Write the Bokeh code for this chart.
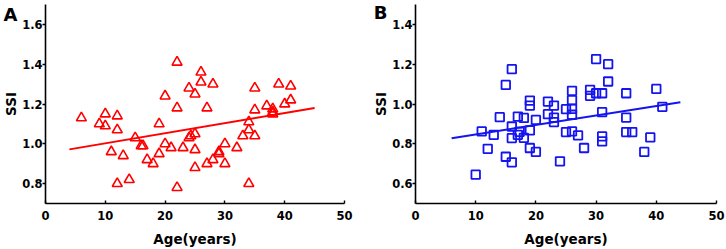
from bokeh.plotting import figure
from bokeh.layouts import row
from bokeh.models import Range1d, FixedTicker, LinearAxis
from bokeh.embed import file_html
from bokeh.resources import INLINE

# ---------------- data ----------------
ageA = [6, 9, 10, 10, 12, 12, 12, 11, 13, 14, 15, 16, 16.3, 17, 18, 19, 19, 20, 20, 21,
        22, 22, 22, 23, 24, 24, 24.3, 25, 25, 25, 25, 26, 26, 27, 27, 28, 28, 29, 29, 30,
        30, 32, 33, 34, 34, 34, 35, 35, 35, 37, 38, 38, 38, 39, 40, 41, 41]
ssiA = [1.13, 1.10, 1.15, 1.09, 1.14, 1.07, 0.80, 0.96, 0.94, 0.82, 1.03, 0.99, 0.99, 0.92, 0.90, 1.10, 0.95, 1.24, 1.00, 0.98,
        1.41, 1.18, 0.78, 0.98, 1.28, 1.03, 1.04, 1.25, 1.05, 0.97, 0.88, 1.36, 1.31, 1.18, 0.90, 1.30, 0.92, 0.95, 0.96, 1.00,
        0.90, 0.98, 1.04, 1.11, 1.07, 0.80, 1.28, 1.17, 1.04, 1.19, 1.175, 1.16, 1.15, 1.30, 1.20, 1.29, 1.22]
fitA_x = [4, 45]
fitA_y = [0.972, 1.18]

ageB = [10, 11, 12, 13, 14, 15, 15, 16, 16, 16, 16, 17, 17, 17.3, 18, 18, 19, 19, 19, 19,
        20, 20, 22, 22, 23, 23, 23, 24, 25, 25, 26, 26, 26, 26, 26, 27, 28, 29, 29, 30,
        30, 31, 31, 31, 31, 32, 32, 35, 35, 35, 36, 38, 39, 40, 41]
ssiB = [0.645, 0.862, 0.775, 0.845, 0.934, 1.096, 0.735, 1.175, 0.887, 0.829, 0.707, 0.937, 0.845, 0.86, 0.93, 0.83, 1.017, 0.992, 0.867, 0.779,
        0.92, 0.759, 1.012, 0.949, 0.992, 0.932, 0.909, 0.712, 0.974, 0.859, 1.066, 1.019, 0.976, 0.946, 0.862, 0.842, 0.779, 1.071, 1.041, 1.226,
        1.054, 1.054, 0.959, 0.837, 0.812, 1.2, 1.113, 1.054, 0.932, 0.859, 0.859, 0.759, 0.832, 1.076, 0.986]
fitB_x = [6, 44]
fitB_y = [0.828, 1.009]

xticks = [0, 10, 20, 30, 40, 50]
xtick_labels = ["0", "10", "20", "30", "40", "50"]
yticksA = [0.8, 1.0, 1.2, 1.4, 1.6]
ytick_labelsA = ["0.8", "1.0", "1.2", "1.4", "1.6"]
yticksB = [0.6, 0.8, 1.0, 1.2, 1.4]
ytick_labelsB = ["0.6", "0.8", "1.0", "1.2", "1.4"]

FONT = "DejaVu Sans"


def make_panel(frame_w, right_border, yr, yticks, ylabels, letter, letter_y):
    p = figure(frame_width=frame_w, frame_height=199,
               min_border_left=45, min_border_right=right_border,
               min_border_top=4, min_border_bottom=46,
               x_range=Range1d(0, 50), y_range=Range1d(*yr),
               output_backend="svg", toolbar_location=None,
               background_fill_color="white", border_fill_color="white")
    p.outline_line_color = None
    p.xgrid.visible = False
    p.ygrid.visible = False

    xa = p.xaxis[0]
    xa.ticker = FixedTicker(ticks=xticks)
    xa.major_label_overrides = {t: s for t, s in zip(xticks, xtick_labels)}
    xa.major_tick_in = 3
    xa.major_tick_out = 0
    xa.minor_tick_in = 0
    xa.minor_tick_out = 0
    xa.major_label_standoff = 7
    xa.axis_label = "Age(years)"
    xa.axis_label_standoff = 8

    ya = p.yaxis[0]
    ya.ticker = FixedTicker(ticks=yticks)
    ya.major_label_overrides = {t: s for t, s in zip(yticks, ylabels)}
    ya.major_tick_in = 0
    ya.major_tick_out = 3
    ya.minor_tick_in = 0
    ya.minor_tick_out = 0
    ya.major_label_standoff = 0
    ya.axis_label = "SSI"
    ya.axis_label_standoff = 0

    for ax in (xa, ya):
        ax.axis_line_width = 1.6
        ax.axis_line_color = "black"
        ax.major_tick_line_width = 1.4
        ax.major_tick_line_color = "black"
        ax.major_label_text_font = FONT
        ax.major_label_text_font_style = "bold"
        ax.major_label_text_font_size = "11.5px"
        ax.major_label_text_color = "black"
        ax.axis_label_text_font = FONT
        ax.axis_label_text_font_style = "bold"
        ax.axis_label_text_font_size = "13.5px"
        ax.axis_label_text_color = "black"

    # panel letter, drawn as the single tick label of a bare outer axis
    la = LinearAxis(ticker=FixedTicker(ticks=[letter_y]),
                    major_label_overrides={letter_y: letter},
                    axis_line_color=None, major_tick_line_color=None,
                    minor_tick_line_color=None,
                    major_tick_in=0, major_tick_out=0,
                    minor_tick_in=0, minor_tick_out=0,
                    major_label_standoff=-17,
                    major_label_text_font=FONT,
                    major_label_text_font_style="bold",
                    major_label_text_font_size="18px",
                    major_label_text_color="black")
    p.add_layout(la, "left")
    return p


pA = make_panel(299, 26, (0.7, 1.7), yticksA, ytick_labelsA, "A", 1.65)
pA.line(fitA_x, fitA_y, line_color="#FF0000", line_width=2)
pA.scatter(ageA, ssiA, marker="triangle", size=10, fill_color=None,
           line_color="#FF0000", line_width=1.6)

pB = make_panel(301, 10, (0.5, 1.5), yticksB, ytick_labelsB, "B", 1.462)
pB.line(fitB_x, fitB_y, line_color="#1414F0", line_width=2)
pB.scatter(ageB, ssiB, marker="square", size=8.5, fill_color=None,
           line_color="#1414F0", line_width=1.8)

layout = row(pA, pB)
open("out.html", "w").write(file_html(layout, INLINE))
